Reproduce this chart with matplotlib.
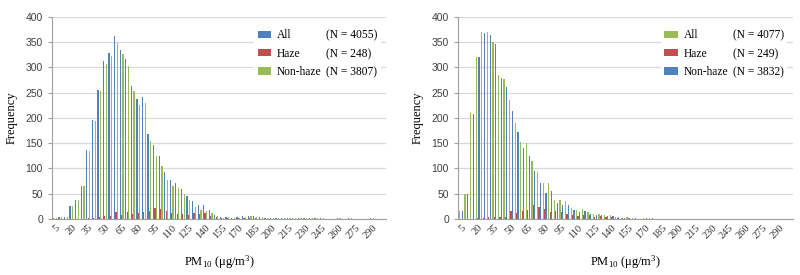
import matplotlib
matplotlib.use('Agg')
import matplotlib.pyplot as plt
from matplotlib.patches import Rectangle
import numpy as np

# pm10 bins (ug/m3), every 5 from 5 to 300
bins = list(range(5, 305, 5))

# left panel
left_all = [2, 3, 4, 25, 38, 66, 136, 196, 256, 312,
            328, 363, 334, 316, 263, 238, 242, 169, 146, 125,
            93, 77, 72, 60, 45, 36, 27, 27, 17, 8,
            3, 4, 2, 3, 5, 6, 5, 3, 2, 2,
            1, 2, 2, 2, 2, 2, 1, 1, 1, 0,
            0, 2, 0, 2, 0, 0, 0, 2, 0, 0]
left_haze = [0, 0, 0, 0, 0, 0, 1, 2, 3, 5,
             6, 14, 8, 13, 10, 12, 13, 15, 22, 20,
             15, 12, 10, 10, 8, 12, 10, 12, 6, 3,
             1, 1, 0, 1, 1, 1, 1, 0, 0, 0,
             0, 0, 0, 0, 0, 0, 0, 0, 0, 0,
             0, 0, 0, 0, 0, 0, 0, 0, 0, 0]
left_nonhaze = [2, 3, 4, 25, 38, 66, 135, 194, 253, 307,
                322, 349, 326, 303, 253, 226, 229, 154, 124, 105,
                78, 65, 62, 50, 37, 24, 17, 15, 11, 5,
                2, 3, 2, 2, 4, 5, 4, 3, 2, 2,
                1, 2, 2, 2, 2, 2, 1, 1, 1, 0,
                0, 2, 0, 2, 0, 0, 0, 2, 0, 0]
left_n = ['(N = 4055)', '(N = 248)', '(N = 3807)']

# right panel
right_all = [16, 50, 209, 321, 371, 371, 351, 284, 278, 236,
             190, 152, 151, 114, 93, 71, 71, 38, 38, 35,
             22, 18, 20, 14, 10, 10, 8, 7, 4, 2,
             3, 1, 0, 2, 1, 0, 0, 0, 0, 0,
             0, 0, 0, 0, 0, 0, 0, 0, 0, 0,
             0, 0, 0, 0, 0, 0, 0, 0, 0, 0]
right_haze = [0, 0, 0, 1, 1, 3, 4, 4, 4, 16,
              12, 16, 17, 27, 24, 19, 14, 15, 14, 10,
              8, 6, 7, 7, 4, 5, 3, 4, 2, 1,
              1, 0, 0, 0, 0, 0, 0, 0, 0, 0,
              0, 0, 0, 0, 0, 0, 0, 0, 0, 0,
              0, 0, 0, 0, 0, 0, 0, 0, 0, 0]
right_nonhaze = [16, 50, 208, 320, 368, 364, 346, 280, 262, 213,
                 173, 141, 124, 94, 71, 51, 55, 32, 28, 27,
                 18, 13, 16, 10, 8, 8, 6, 5, 3, 2,
                 2, 1, 0, 2, 1, 0, 0, 0, 0, 0,
                 0, 0, 0, 0, 0, 0, 0, 0, 0, 0,
                 0, 0, 0, 0, 0, 0, 0, 0, 0, 0]
right_n = ['(N = 4077)', '(N = 249)', '(N = 3832)']

series_names = ['All', 'Haze', 'Non-haze']

blue = '#4F81BD'
red = '#C0504D'
green = '#9BBB59'

plt.rcParams['font.family'] = ['Liberation Serif', 'DejaVu Serif']
plt.rcParams['mathtext.default'] = 'regular'


def draw_panel(ax, values, colors, n_labels):
    x = np.arange(len(bins))
    bars = []
    for k, (vals, col) in enumerate(zip(values, colors)):
        b = ax.bar(x + (k - 1) * 0.25, vals, width=0.22, color=col,
                   edgecolor='none', zorder=3)
        bars.append(b)

    ax.set_xlim(-0.5, len(bins) - 0.5)
    ax.set_ylim(0, 400)
    ax.set_yticks(range(0, 401, 50))
    ax.yaxis.grid(True, color='#D9D9D9', linewidth=0.9, zorder=0)
    ax.set_axisbelow(True)

    ax.set_xticks(x[::3])
    ax.set_xticklabels([str(b) for b in bins[::3]], rotation=45,
                       ha='right', rotation_mode='anchor', fontsize=7.5,
                       color='#333333')
    ax.tick_params(axis='x', length=0, pad=3)
    ax.tick_params(axis='y', length=3, color='#A0A0A0', labelsize=7.5,
                   labelcolor='#404040')
    for lab in ax.get_yticklabels():
        lab.set_family('Liberation Sans')

    for side in ['top', 'right']:
        ax.spines[side].set_visible(False)
    ax.spines['left'].set_color('#A0A0A0')
    ax.spines['bottom'].set_color('#A0A0A0')

    ax.set_ylabel('Frequency', fontsize=9, labelpad=6)
    ax.set_xlabel(r'PM$_{10}$ (μg/m$^{3}$)', fontsize=9, labelpad=9)

    # legend: names in first column, sample sizes in second
    empty = Rectangle((0, 0), 1, 1, visible=False)
    handles = [bars[0], bars[1], bars[2], empty, empty, empty]
    labels = series_names + n_labels
    leg = ax.legend(handles, labels, ncol=2, loc='upper left',
                    bbox_to_anchor=(0.605, 0.955), borderaxespad=0,
                    fontsize=8.3, handlelength=1.2, handleheight=0.6,
                    handletextpad=0.5, columnspacing=-1.35,
                    labelspacing=0.55, borderpad=0.3,
                    frameon=True, framealpha=1, facecolor='white',
                    edgecolor='none', fancybox=False)
    leg.set_zorder(5)


fig = plt.figure(figsize=(8, 2.75), dpi=100)
ax1 = fig.add_axes([0.065, 0.204, 0.4175, 0.7345])
ax2 = fig.add_axes([0.5725, 0.204, 0.419, 0.7345])

draw_panel(ax1, [left_all, left_haze, left_nonhaze], [blue, red, green], left_n)
draw_panel(ax2, [right_all, right_haze, right_nonhaze], [green, red, blue], right_n)

fig.savefig('out.png', dpi=100)
